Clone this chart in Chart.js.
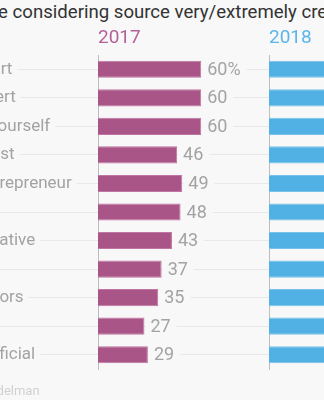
<!DOCTYPE html>
<html>
<head>
<meta charset="utf-8">
<script src="https://cdn.jsdelivr.net/npm/chart.js@4/dist/chart.umd.min.js"></script>
<style>
  html, body { margin: 0; padding: 0; width: 324px; height: 400px; overflow: hidden; background: #f8f8f8; font-family: Roboto, sans-serif; }
  body { position: relative; }
  #title { position: absolute; left: -86px; top: 1px; font-size: 18.6px; color: #333; white-space: nowrap; }
  #source { position: absolute; left: -44px; top: 383px; font-size: 13px; color: #d0d0d0; white-space: nowrap; }
  .panel { position: absolute; top: 0; height: 400px; }
  #p2017 { left: -112px; width: 382px; }
  #p2018 { left: 269px; width: 200px; }
</style>
</head>
<body>
<div id="title">Percentage considering source very/extremely credible</div>
<div class="panel" id="p2017"><canvas id="c2017"></canvas></div>
<div class="panel" id="p2018"><canvas id="c2018"></canvas></div>
<div id="source">Data: Edelman</div>
<script>
'use strict';

var categories = ['Technical expert', 'Academic expert', 'A person like yourself', 'Financial analyst',
    'Successful entrepreneur', 'Employee', 'NGO representative', 'CEO', 'Board of directors',
    'Journalist', 'Government official'];
var years = ['2017', '2018'];
var values2017 = [60, 60, 60, 46, 49, 48, 43, 37, 35, 27, 29];
var values2018 = [63, 61, 54, 50, 50, 47, 45, 44, 41, 38, 35];
var xRange = [0, 100];

var bg = '#f8f8f8';
var textGray = '#a3a3a3';

// value labels at the end of each bar, with a patch of background so the guide line stops short
var valueLabels = {
    id: 'valueLabels',
    afterDatasetsDraw: function (chart) {
        var ctx = chart.ctx;
        var data = chart.data.datasets[0].data;
        ctx.save();
        ctx.font = '18px Roboto';
        ctx.textBaseline = 'middle';
        ctx.textAlign = 'left';
        chart.getDatasetMeta(0).data.forEach(function (bar, i) {
            var text = data[i] + (i === 0 ? '%' : '');
            var w = ctx.measureText(text).width;
            ctx.fillStyle = bg;
            ctx.fillRect(bar.x + 1, bar.y - 10, w + 11, 20);
            ctx.fillStyle = textGray;
            ctx.fillText(text, bar.x + 6, bar.y + 1);
        });
        ctx.restore();
    }
};

function makePanel(canvasId, year, values, color, edge, titleColor, labelWidth) {
    return new Chart(document.getElementById(canvasId), {
        type: 'bar',
        data: {
            labels: categories,
            datasets: [{
                label: year,
                data: values,
                backgroundColor: color,
                borderColor: edge,
                borderWidth: 1,
                barPercentage: 0.6,
                categoryPercentage: 1
            }]
        },
        options: {
            indexAxis: 'y',
            responsive: true,
            maintainAspectRatio: false,
            animation: false,
            layout: { padding: { top: 0, bottom: 31, left: 0, right: 0 } },
            plugins: {
                legend: { display: false },
                tooltip: { enabled: false }
            },
            scales: {
                x: {
                    position: 'top',
                    min: xRange[0],
                    max: xRange[1],
                    grid: { display: false },
                    border: { display: false },
                    ticks: { display: false },
                    title: {
                        display: true,
                        text: year,
                        align: 'start',
                        color: titleColor,
                        font: { family: 'Roboto', size: 19 },
                        padding: { top: 27, bottom: 0 }
                    },
                    afterFit: function (s) { s.height = 55; }
                },
                y: {
                    grid: {
                        offset: false,
                        color: '#e8e8e8',
                        tickLength: labelWidth,
                        drawTicks: labelWidth > 0
                    },
                    border: { display: true, color: '#bdbdbd' },
                    ticks: {
                        display: labelWidth > 0,
                        crossAlign: 'far',
                        color: textGray,
                        font: { family: 'Roboto', size: 17 },
                        showLabelBackdrop: true,
                        backdropColor: bg,
                        backdropPadding: { top: 0, bottom: 0, left: 0, right: 5 }
                    },
                    afterFit: function (s) { s.width = labelWidth; }
                }
            }
        },
        plugins: [valueLabels]
    });
}

makePanel('c2017', years[0], values2017, '#aa5588', '#bf76a2', '#b5609a', 210);
makePanel('c2018', years[1], values2018, '#51b1e4', '#78c2ea', '#5ab6ea', 0);
</script>
</body>
</html>
